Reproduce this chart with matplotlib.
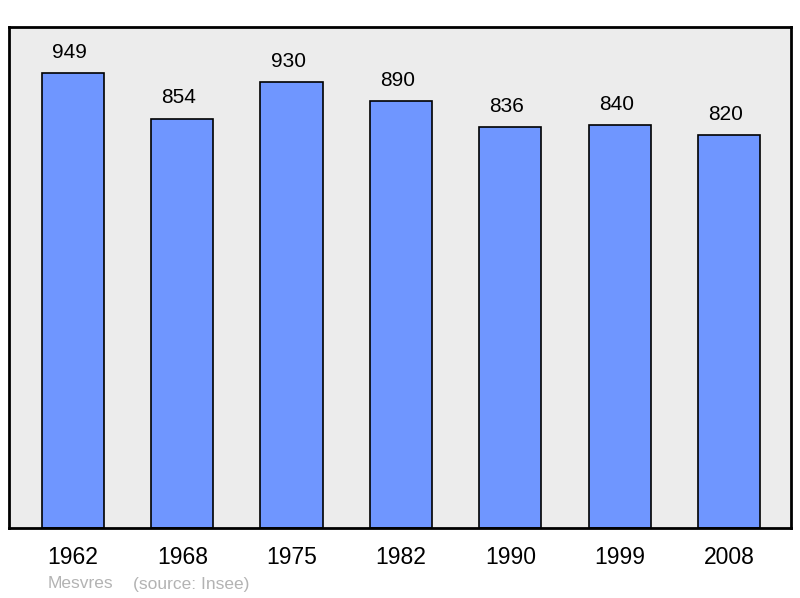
import matplotlib.pyplot as plt

years = ["1962", "1968", "1975", "1982", "1990", "1999", "2008"]
population = [949, 854, 930, 890, 836, 840, 820]
commune = "Mesvres"
source = "(source: Insee)"

plt.rcParams['font.family'] = ['Liberation Sans', 'DejaVu Sans']

fig = plt.figure(figsize=(8, 5.98), dpi=100)
ax = fig.add_axes([9 / 800, 70 / 598, 782 / 800, 501 / 598])
ax.set_facecolor('#ececec')

x = range(len(years))
ax.bar(x, population, width=0.57, color='#6f96ff', edgecolor='black', linewidth=1.2, zorder=2)

for i, v in enumerate(population):
    ax.annotate(str(v), (i, v), xytext=(-2.5, 15), textcoords='offset points',
                ha='center', va='center', fontsize=15)

ax.set_xlim(-0.585, 6.567)
ax.set_ylim(0, 1045)
ax.set_xticks(list(x))
ax.set_xticklabels(years, fontsize=16.5)
ax.tick_params(axis='x', length=0, pad=13)
ax.set_yticks([])
for s in ax.spines.values():
    s.set_linewidth(2)

fig.text(48 / 800, 1 - 584 / 598, commune, color='#b3b3b3', fontsize=12.5, va='center')
fig.text(133 / 800, 1 - 584 / 598, source, color='#b3b3b3', fontsize=12.5, va='center')

fig.savefig('out.png', dpi=100)
